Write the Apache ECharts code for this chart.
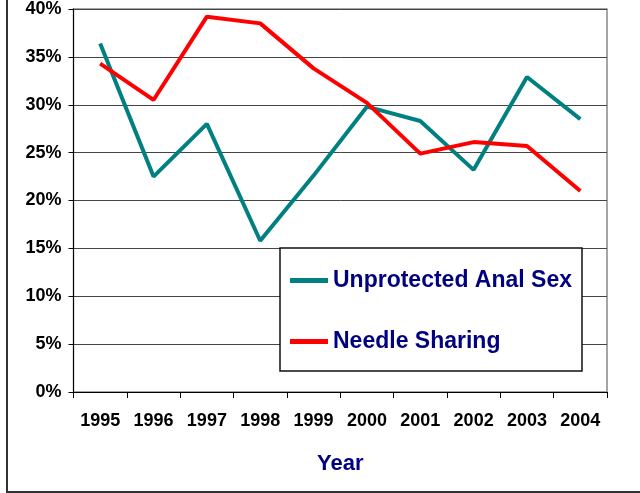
<!DOCTYPE html>
<html lang="en">
<head>
    <meta charset="UTF-8">
    <title>Risk behaviours by year</title>
    <script src="https://cdn.jsdelivr.net/npm/echarts@6/dist/echarts.min.js"></script>
    <style>
        body { margin: 0; background: #fff; }
    </style>
</head>
<body>
    <div id="chart_div" style="width: 640px; height: 493px;"></div>
</body>
    <script type="text/javascript">

       var years = ['1995', '1996', '1997', '1998', '1999', '2000', '2001', '2002', '2003', '2004'];
       var analSex = [36.4, 22.5, 28.0, 15.8, 22.6, 29.8, 28.3, 23.2, 32.9, 28.5];
       var needleSharing = [34.3, 30.5, 39.2, 38.5, 33.8, 30.2, 24.9, 26.1, 25.7, 21.0];
       var yTicks = [0, 5, 10, 15, 20, 25, 30, 35, 40];

       var font = 'Liberation Sans, Arial, sans-serif';
       var chart = echarts.init(document.getElementById("chart_div"));
       var options = {
            animation: false,
            textStyle: { fontFamily: font },
            graphic: [{
                type: 'rect',
                shape: { x: 7, y: -10, width: 700, height: 502 },
                style: { fill: 'none', stroke: '#333', lineWidth: 2 },
                z: -1
            }],
            grid: {
                left: 73.5,
                right: 33,
                top: 7,
                bottom: 101,
                show: true,
                borderColor: '#888',
                borderWidth: 1.5
            },
            legend: {
                orient: 'vertical',
                left: 280,
                top: 248,
                padding: [21, 10, 18, 10],
                itemGap: 38,
                itemWidth: 38,
                itemHeight: 5,
                icon: 'rect',
                backgroundColor: '#fff',
                borderColor: '#111',
                borderWidth: 1.5,
                textStyle: {
                    color: '#000080',
                    fontWeight: 'bold',
                    fontSize: 23,
                    fontFamily: font
                },
                data: ['Unprotected Anal Sex', 'Needle Sharing']
            },
            xAxis: {
                type: 'category',
                data: years,
                boundaryGap: true,
                name: 'Year',
                nameLocation: 'middle',
                nameGap: 61,
                nameTextStyle: {
                    color: '#000080',
                    fontWeight: 'bold',
                    fontSize: 22,
                    fontFamily: font
                },
                axisLine: { lineStyle: { color: '#000', width: 1 } },
                axisTick: { show: true, length: 6, alignWithLabel: false, lineStyle: { color: '#000' } },
                axisLabel: {
                    color: '#000',
                    fontWeight: 'bold',
                    fontSize: 18,
                    margin: 20,
                    fontFamily: font
                }
            },
            yAxis: {
                type: 'value',
                min: yTicks[0],
                max: yTicks[yTicks.length - 1],
                interval: 5,
                axisLine: { show: true, lineStyle: { color: '#000', width: 1 } },
                axisTick: { show: true, length: 5, lineStyle: { color: '#000' } },
                axisLabel: {
                    formatter: '{value}%',
                    color: '#000',
                    fontWeight: 'bold',
                    fontSize: 18,
                    margin: 12,
                    fontFamily: font
                },
                splitLine: { show: true, lineStyle: { color: '#444', width: 1 } }
            },
            series: [
                {
                    name: 'Unprotected Anal Sex',
                    type: 'line',
                    data: analSex,
                    symbol: 'none',
                    color: '#008080',
                    lineStyle: { color: '#008080', width: 4 }
                },
                {
                    name: 'Needle Sharing',
                    type: 'line',
                    data: needleSharing,
                    symbol: 'none',
                    color: '#ff0000',
                    lineStyle: { color: '#ff0000', width: 4 }
                }
            ]
       };
       chart.setOption(options);

    </script>
</html>
